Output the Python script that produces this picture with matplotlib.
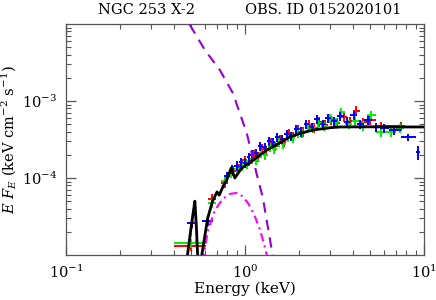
import numpy as np
import matplotlib
matplotlib.use('Agg')
import matplotlib.pyplot as plt
from matplotlib.ticker import LogLocator, NullFormatter

plt.rcParams['font.family'] = ['DejaVu Serif']
plt.rcParams['mathtext.fontset'] = 'dejavuserif'

# --- data ---
# red series
red_e = [0.50, 0.655, 0.775, 0.86, 0.93, 1.0, 1.06, 1.12, 1.18, 1.25, 1.32, 1.40, 1.48, 1.57, 1.66,
         1.76, 1.87, 1.99, 2.12, 2.27, 2.43, 2.61, 2.81, 3.03, 3.28, 3.56, 3.87, 4.2, 4.6, 5.0, 5.8, 7.5]
red_f = [1.31e-5, 5.4e-5, 8.6e-5, 1.25e-4, 1.35e-4, 1.7e-4, 1.65e-4, 2.0e-4, 1.9e-4, 2.4e-4, 2.3e-4,
         2.9e-4, 2.6e-4, 3.2e-4, 2.9e-4, 3.8e-4, 3.5e-4, 4.3e-4, 4.0e-4, 4.9e-4, 4.5e-4, 5.4e-4, 4.9e-4,
         5.6e-4, 5.2e-4, 6.2e-4, 5.5e-4, 7.5e-4, 5.3e-4, 5.6e-4, 4.7e-4, 4.7e-4]
red_first_bins = [(0.40, 0.61), (0.62, 0.69), (0.74, 0.81)]

# green series
green_e = [0.50, 0.655, 0.775, 0.84, 0.91, 0.97, 1.03, 1.09, 1.16, 1.23, 1.30, 1.38, 1.46, 1.55, 1.64,
           1.74, 1.85, 1.97, 2.10, 2.24, 2.40, 2.58, 2.78, 3.00, 3.24, 3.45, 3.8, 4.15, 4.55, 5.05, 5.8, 6.6, 7.4]
green_f = [1.42e-5, 4.7e-5, 9.1e-5, 1.15e-4, 1.3e-4, 1.45e-4, 1.5e-4, 1.75e-4, 1.7e-4, 2.1e-4, 2.0e-4,
           2.5e-4, 2.4e-4, 2.9e-4, 2.8e-4, 3.4e-4, 3.3e-4, 3.9e-4, 3.8e-4, 4.6e-4, 4.4e-4, 5.2e-4, 4.7e-4,
           6.0e-4, 5.3e-4, 7.2e-4, 5.0e-4, 5.5e-4, 4.8e-4, 6.5e-4, 4.0e-4, 4.0e-4, 4.4e-4]
green_first_bins = [(0.40, 0.61), (0.62, 0.69), (0.74, 0.81)]

# blue series
blue_e = [0.505, 0.62, 0.80, 0.85, 0.90, 0.95, 1.00, 1.05, 1.10, 1.16, 1.22, 1.29, 1.36, 1.44, 1.52, 1.61,
          1.71, 1.82, 1.94, 2.07, 2.21, 2.36, 2.53, 2.72, 2.93, 3.16, 3.42, 3.72, 4.05, 4.4, 4.85, 5.4,
          6.0, 6.8, 8.15, 9.25]
blue_f = [2.6e-5, 2.8e-5, 1.05e-4, 1.3e-4, 1.45e-4, 1.6e-4, 1.55e-4, 1.85e-4, 2.0e-4, 2.1e-4, 2.6e-4,
          2.5e-4, 3.0e-4, 2.9e-4, 3.4e-4, 3.2e-4, 3.7e-4, 3.5e-4, 4.3e-4, 4.0e-4, 5.0e-4, 4.6e-4, 5.8e-4,
          5.0e-4, 6.0e-4, 5.5e-4, 6.4e-4, 5.4e-4, 6.6e-4, 5.0e-4, 5.6e-4, 4.6e-4, 4.4e-4, 4.2e-4,
          3.4e-4, 2.18e-4]
blue_first_bins = [(0.475, 0.54), (0.58, 0.66), (0.77, 0.83)]
blue_last_bins = [(7.5, 9.0), (9.0, 9.5)]
blue_last_err = [0.35e-4, 0.45e-4]
rel_err = 0.14

# model components
model_e = [0.46, 0.50, 0.515, 0.526, 0.537, 0.55, 0.575, 0.62, 0.66, 0.70, 0.72, 0.76, 0.79, 0.84,
           0.88, 0.95, 1.0, 1.066, 1.2, 1.33, 1.5, 1.78, 2.0, 2.4, 3.0, 3.4, 5.0, 7.0, 10.5]
model_f = [5e-6, 2.2e-5, 3.6e-5, 5.0e-5, 2.2e-5, 6e-6, 1e-5, 3e-5, 5e-5, 6.6e-5, 6.0e-5, 8e-5, 9.3e-5,
           1.35e-4, 1.0e-4, 1.3e-4, 1.45e-4, 1.57e-4, 1.95e-4, 2.31e-4, 2.7e-4, 3.4e-4, 3.75e-4, 4.2e-4,
           4.5e-4, 4.6e-4, 4.62e-4, 4.6e-4, 4.6e-4]

bb_e = [0.45, 0.49, 0.598, 0.725, 0.857, 1.026, 1.18, 1.26, 1.43, 1.5]
bb_f = [1.6e-2, 1.0e-2, 4.6e-3, 2.53e-3, 1.27e-3, 3.8e-4, 1.0e-4, 5.6e-5, 1.0e-5, 6e-6]

mek_e = [0.46, 0.50, 0.515, 0.525, 0.535, 0.55, 0.58, 0.62, 0.68, 0.75, 0.82, 0.9, 0.97, 1.05, 1.13,
         1.21, 1.28, 1.36, 1.45]
mek_f = [5e-6, 2e-5, 3.5e-5, 4.8e-5, 2e-5, 5e-6, 8e-6, 2e-5, 3.8e-5, 5.3e-5, 6.2e-5, 6.4e-5, 5.8e-5,
         4.6e-5, 3.3e-5, 2.2e-5, 1.4e-5, 8e-6, 4e-6]


def bins(e, first=(), last=()):
    e = np.asarray(e)
    edges = np.sqrt(e[:-1] * e[1:])
    lo = np.r_[e[0] * 0.95, edges]
    hi = np.r_[edges, e[-1] * 1.05]
    for i, (a, b) in enumerate(first):
        lo[i], hi[i] = a, b
    for i, (a, b) in enumerate(last):
        j = len(e) - len(last) + i
        lo[j], hi[j] = a, b
    return np.vstack([e - lo, hi - e])


fig = plt.figure(figsize=(4.36, 3.0), dpi=100)
ax = fig.add_axes([0.151, 0.15, 0.821, 0.77])

series = [
    (red_e, red_f, red_first_bins, (), None, '#ff0000'),
    (green_e, green_f, green_first_bins, (), None, '#00ee00'),
    (blue_e, blue_f, blue_first_bins, blue_last_bins, blue_last_err, '#0000ff'),
]
for e, f, first, last, lasterr, col in series:
    f = np.asarray(f)
    yerr = f * rel_err
    if lasterr is not None:
        yerr[-len(lasterr):] = lasterr
    ax.errorbar(e, f, xerr=bins(e, first, last), yerr=yerr, fmt='none',
                ecolor=col, elinewidth=1.4, capsize=0, zorder=2)

ax.plot(bb_e, bb_f, color='#9400d3', lw=1.5, ls=(0, (5, 3.5)), zorder=3)
ax.plot(mek_e, mek_f, color='#ff00ff', lw=1.5, ls=(0, (4, 2, 1, 2)), zorder=3)
ax.plot(model_e, model_f, color='black', lw=2.0, zorder=4)

ax.set_xscale('log')
ax.set_yscale('log')
ax.set_xlim(0.1, 10)
ax.set_ylim(1e-5, 1e-2)
ax.set_yticks([1e-4, 1e-3])
ax.yaxis.set_minor_locator(LogLocator(base=10, subs=np.arange(2, 10), numticks=20))
ax.yaxis.set_minor_formatter(NullFormatter())
ax.xaxis.set_minor_locator(LogLocator(base=10, subs=np.arange(2, 10), numticks=20))
ax.xaxis.set_minor_formatter(NullFormatter())

for sp in ax.spines.values():
    sp.set_color('#555555')
    sp.set_linewidth(0.9)
ax.tick_params(which='both', direction='in', top=True, right=True, color='#555555', labelsize=10.5)
ax.tick_params(which='major', length=7, width=0.9, pad=6)
ax.tick_params(which='minor', length=3.5, width=0.8)

ax.set_xlabel('Energy (keV)', fontsize=11, labelpad=1)
ax.set_ylabel(r'$E\ F_E$ (keV cm$^{-2}$ s$^{-1}$)', fontsize=10.5, labelpad=2)

fig.text(0.335, 0.965, 'NGC 253 X-2', ha='center', va='center', fontsize=10.5)
fig.text(0.741, 0.965, 'OBS. ID 0152020101', ha='center', va='center', fontsize=10.5)

fig.savefig('out.png', dpi=100)
